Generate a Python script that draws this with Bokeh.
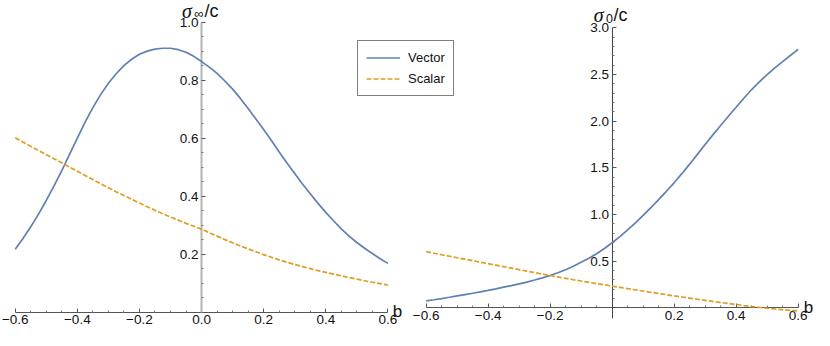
from bokeh.plotting import figure
from bokeh.models import Range1d, LinearAxis, FixedTicker, Label, Legend, LegendItem
from bokeh.embed import file_html
from bokeh.resources import INLINE

# ---------------- data ----------------
b = [-0.6, -0.575, -0.55, -0.525, -0.5, -0.475, -0.45, -0.425, -0.4, -0.375, -0.35, -0.325,
     -0.3, -0.275, -0.25, -0.225, -0.2, -0.175, -0.15, -0.125, -0.1, -0.075, -0.05, -0.025,
     0.0, 0.025, 0.05, 0.075, 0.1, 0.125, 0.15, 0.175, 0.2, 0.225, 0.25, 0.275,
     0.3, 0.325, 0.35, 0.375, 0.4, 0.425, 0.45, 0.475, 0.5, 0.525, 0.55, 0.575, 0.6]

# left panel: sigma_inf / c
left_vector = [0.218, 0.255, 0.295, 0.339, 0.386, 0.436, 0.489, 0.545, 0.601, 0.656, 0.706, 0.751,
               0.790, 0.823, 0.851, 0.873, 0.890, 0.901, 0.908, 0.911, 0.911, 0.906, 0.897, 0.883,
               0.865, 0.846, 0.824, 0.798, 0.770, 0.738, 0.703, 0.667, 0.631, 0.593, 0.553, 0.515,
               0.479, 0.443, 0.409, 0.376, 0.345, 0.316, 0.288, 0.263, 0.241, 0.221, 0.203, 0.185, 0.169]
left_scalar = [0.602, 0.587, 0.573, 0.558, 0.544, 0.530, 0.516, 0.501, 0.487, 0.472, 0.458, 0.444,
               0.430, 0.416, 0.403, 0.390, 0.377, 0.364, 0.352, 0.340, 0.329, 0.318, 0.307, 0.297,
               0.287, 0.275, 0.263, 0.251, 0.240, 0.229, 0.219, 0.209, 0.199, 0.190, 0.181, 0.173,
               0.165, 0.158, 0.151, 0.144, 0.138, 0.132, 0.126, 0.120, 0.115, 0.109, 0.104, 0.099, 0.094]

# right panel: sigma_0 / c
right_vector = [0.074, 0.086, 0.099, 0.113, 0.128, 0.142, 0.156, 0.171, 0.186, 0.203, 0.221, 0.238,
                0.256, 0.276, 0.298, 0.321, 0.346, 0.375, 0.408, 0.446, 0.488, 0.532, 0.580, 0.636,
                0.697, 0.763, 0.835, 0.911, 0.990, 1.073, 1.160, 1.249, 1.340, 1.438, 1.540, 1.645,
                1.750, 1.854, 1.955, 2.054, 2.150, 2.247, 2.340, 2.423, 2.500, 2.572, 2.640, 2.705, 2.770]
right_scalar = [0.602, 0.585, 0.569, 0.553, 0.537, 0.521, 0.505, 0.489, 0.473, 0.457, 0.441, 0.425,
                0.409, 0.393, 0.377, 0.361, 0.346, 0.331, 0.316, 0.301, 0.287, 0.273, 0.259, 0.246,
                0.233, 0.219, 0.205, 0.192, 0.180, 0.167, 0.155, 0.141, 0.128, 0.116, 0.104, 0.092,
                0.080, 0.068, 0.057, 0.046, 0.035, 0.024, 0.014, 0.004, -0.005, -0.013, -0.020, -0.027, -0.033]

series_names = ["Vector", "Scalar"]
left_x_ticks = [-0.6, -0.4, -0.2, 0.0, 0.2, 0.4, 0.6]
left_y_ticks = [0.2, 0.4, 0.6, 0.8, 1.0]
right_x_ticks = [-0.6, -0.4, -0.2, 0.2, 0.4, 0.6]
right_y_ticks = [0.5, 1.0, 1.5, 2.0, 2.5, 3.0]

# ---------------- layout ----------------
W, H = 814, 330
SX, SY = W / 830.0, H / 346.0   # reference-pixel -> figure-pixel


def xrange_for(v0, r0, v1, r1):
    p0, p1 = r0 * SX, r1 * SX
    k = (p1 - p0) / (v1 - v0)
    start = v0 - p0 / k
    return Range1d(start, start + W / k)


def yrange_for(v0, r0, v1, r1):
    t0, t1 = r0 * SY, r1 * SY
    k = (t0 - t1) / (v1 - v0)
    start = v0 - (H - t0) / k
    return Range1d(start, start + H / k)


BLUE = "#5E81B5"
ORANGE = "#E19C24"
FONT = "Liberation Sans"

p = figure(width=W, height=H, x_range=xrange_for(-0.6, 15, 0.6, 395),
           y_range=yrange_for(0.0, 327, 1.0, 23),
           x_axis_type=None, y_axis_type=None, toolbar_location=None,
           output_backend="svg", min_border=0, outline_line_color=None)
p.extra_x_ranges = {"r": xrange_for(-0.6, 434, 0.6, 813.3)}
p.extra_y_ranges = {"r": yrange_for(0.0, 322.2, 3.0, 28.8)}
p.background_fill_color = "white"
p.border_fill_color = "white"


def style_axis(ax, line_color="#555555", line_width=1):
    ax.axis_line_color = line_color
    ax.axis_line_width = line_width
    ax.major_tick_line_color = "#555555"
    ax.minor_tick_line_color = "#777777"
    ax.major_tick_in = 4
    ax.major_tick_out = 0
    ax.minor_tick_in = 2
    ax.minor_tick_out = 0
    ax.major_label_text_font = FONT
    ax.major_label_text_font_size = "13.5px"
    ax.major_label_text_color = "#111111"
    ax.major_label_standoff = 3
    ax.level = "underlay"


def minor_between(ticks_lo, ticks_hi, step, majors):
    out = []
    n = int(round((ticks_hi - ticks_lo) / step))
    for i in range(n + 1):
        v = round(ticks_lo + i * step, 4)
        if all(abs(v - m) > 1e-6 for m in majors):
            out.append(v)
    return out


def labels_for(ticks):
    return {t: f"{t:.1f}".replace("-", "\u2212") for t in ticks}


# left panel axes
lx = LinearAxis(fixed_location=0.0, bounds=(-0.6, 0.6),
                ticker=FixedTicker(ticks=left_x_ticks,
                                   minor_ticks=minor_between(-0.6, 0.6, 0.05, left_x_ticks)))
lx.major_label_overrides = labels_for(left_x_ticks)
style_axis(lx)
p.add_layout(lx, "below")

ly = LinearAxis(fixed_location=0.0, bounds=(0.0, 1.0),
                ticker=FixedTicker(ticks=left_y_ticks,
                                   minor_ticks=minor_between(0.0, 1.0, 0.05, left_y_ticks + [0.0])))
ly.major_label_overrides = labels_for(left_y_ticks)
style_axis(ly, line_color="#b4b4b4", line_width=2)
p.add_layout(ly, "left")

# right panel axes
rx = LinearAxis(x_range_name="r", y_range_name="r", fixed_location=0.0, bounds=(-0.6, 0.6),
                ticker=FixedTicker(ticks=right_x_ticks,
                                   minor_ticks=minor_between(-0.6, 0.6, 0.05, right_x_ticks + [0.0])))
rx.major_label_overrides = labels_for(right_x_ticks)
style_axis(rx)
p.add_layout(rx, "below")

ry = LinearAxis(x_range_name="r", y_range_name="r", fixed_location=0.0, bounds=(-0.11, 3.0),
                ticker=FixedTicker(ticks=right_y_ticks,
                                   minor_ticks=minor_between(0.0, 3.0, 0.1, right_y_ticks + [0.0])))
ry.major_label_overrides = labels_for(right_y_ticks)
style_axis(ry, line_color="#444444")
p.add_layout(ry, "left")

# curves
lv = p.line(b, left_vector, line_color=BLUE, line_width=1.7)
ls = p.line(b, left_scalar, line_color=ORANGE, line_width=1.7, line_dash="5 2")
p.line(b, right_vector, line_color=BLUE, line_width=1.7, x_range_name="r", y_range_name="r")
p.line(b, right_scalar, line_color=ORANGE, line_width=1.7, line_dash="5 2",
       x_range_name="r", y_range_name="r")

# legend
legend = Legend(items=[LegendItem(label=series_names[0], renderers=[lv]),
                       LegendItem(label=series_names[1], renderers=[ls])],
                location=(364 * SX, H - 101 * SY))
legend.border_line_color = "black"
legend.border_line_width = 1
legend.background_fill_color = "white"
legend.background_fill_alpha = 1.0
legend.label_text_font = FONT
legend.label_text_font_size = "13px"
legend.label_text_color = "#111111"
legend.glyph_width = 34
legend.glyph_height = 17
legend.label_height = 17
legend.label_standoff = 8
legend.padding = 8
legend.spacing = 4
legend.margin = 0
p.add_layout(legend)


# axis titles
def lab(text, rx_, ry_, size, font=FONT, style="normal"):
    p.add_layout(Label(x=rx_ * SX, y=H - ry_ * SY, x_units="screen", y_units="screen",
                       text=text, text_font=font, text_font_style=style,
                       text_font_size=size, text_baseline="alphabetic",
                       text_align="left", text_color="#111111"))


DY = 5  # compensation for rendered baseline
lab("\u03c3", 185, 15.5 - DY, "20px", font="Liberation Serif", style="italic")
lab("\u221e", 197.5, 18.5 - DY, "13px")
lab("/c", 208, 16.0 - DY, "18px")

lab("\u03c3", 605, 20.5 - DY, "20px", font="Liberation Serif", style="italic")
lab("0", 617.5, 24.0 - DY, "12.5px")
lab("/c", 625, 20.5 - DY, "18px")

lab("b", 400, 331 - DY, "17px")
lab("b", 819, 327 - DY, "17px")

open("out.html", "w").write(file_html(p, INLINE))
